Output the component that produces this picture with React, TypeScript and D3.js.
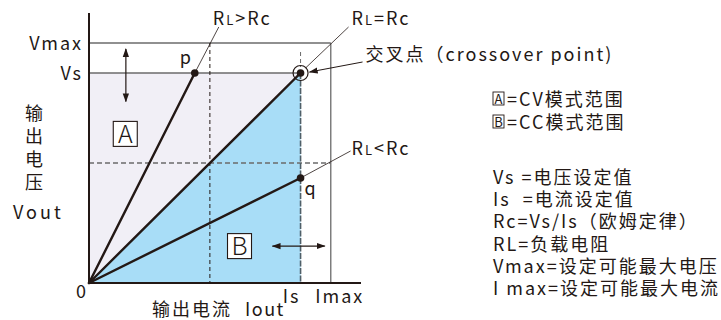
import * as d3 from 'd3';

// axis units (arbitrary): current on x, voltage on y
const xDomain = [0, 9];
const yDomain = [0, 9];
const Is = 7;
const Imax = 8;
const Vs = 7;
const Vmax = 8;
const midI = 4;
const midV = 4;

// load lines: end points from the origin
const loadLines = [
  { name: 'RL>Rc', x: 3.5, y: 7, point: 'p' },
  { name: 'RL=Rc', x: 7, y: 7, point: '' },
  { name: 'RL<Rc', x: 7, y: 3.5, point: 'q' },
];

const yTickLabels = [
  { v: Vmax, label: 'Vmax' },
  { v: Vs, label: 'Vs' },
];
const xTickLabels = [
  { v: Is, label: 'Is', dx: -9, dy: 20 },
  { v: Imax, label: 'Imax', dx: 9, dy: 20 },
];

const legendBoxes = [
  { box: 'A', text: '=CV模式范围' },
  { box: 'B', text: '=CC模式范围' },
];
const legendLines = [
  'Vs =电压设定值',
  'Is  =电流设定值',
  'Rc=Vs/Is（欧姆定律）',
  'RL=负载电阻',
  'Vmax=设定可能最大电压',
  'I max=设定可能最大电流',
];

const W = 721;
const H = 320;
const FONT = "'Noto Sans CJK SC', 'Noto Sans', sans-serif";
const INK = '#231815';
const GRAY = '#6b6b6b';

export default function App() {
  const x = d3.scaleLinear().domain(xDomain).range([89, 361]);
  const y = d3.scaleLinear().domain(yDomain).range([283, 13]);

  const areaA = d3.line()([
    [x(0), y(0)],
    [x(0), y(Vs)],
    [x(Is), y(Vs)],
  ]) + 'Z';
  const areaB = d3.line()([
    [x(0), y(0)],
    [x(Is), y(Vs)],
    [x(Is), y(0)],
  ]) + 'Z';

  const p = loadLines[0];
  const q = loadLines[2];

  const txt = {
    fontFamily: FONT,
    fontSize: 18,
    letterSpacing: 2,
    fill: INK,
  } as const;

  return (
    <svg
      width={W}
      height={H}
      viewBox={`0 0 ${W} ${H}`}
      style={{ position: 'absolute', left: 0, top: 0, background: '#fff' }}
    >
      <defs>
        <marker id="ah" viewBox="0 0 10 10" refX="9" refY="5" markerWidth="9" markerHeight="9" orient="auto-start-reverse" markerUnits="userSpaceOnUse">
          <path d="M0,1.5 L10,5 L0,8.5 Z" fill={INK} />
        </marker>
      </defs>

      {/* regions */}
      <path d={areaA} fill="#f1eff6" />
      <path d={areaB} fill="#a8ddf7" />

      {/* limit lines */}
      <line x1={x(0)} x2={x(Imax)} y1={y(Vmax)} y2={y(Vmax)} stroke={GRAY} strokeWidth={1.3} />
      <line x1={x(Imax)} x2={x(Imax)} y1={y(Vmax)} y2={y(0)} stroke={GRAY} strokeWidth={1.3} />
      <line x1={x(0)} x2={x(Is)} y1={y(Vs)} y2={y(Vs)} stroke={GRAY} strokeWidth={1.3} />

      {/* dashed guides */}
      <line x1={x(midI)} x2={x(midI)} y1={y(Vmax)} y2={y(0)} stroke={INK} strokeWidth={1} strokeDasharray="4,3" />
      <line x1={x(0)} x2={x(Imax)} y1={y(midV)} y2={y(midV)} stroke={GRAY} strokeWidth={1.3} strokeDasharray="5,3" />
      <line x1={x(Is)} x2={x(Is)} y1={y(Vmax) + 9} y2={y(Vs) - 6} stroke={GRAY} strokeWidth={1} strokeDasharray="4,3" />
      <line x1={x(Is)} x2={x(Is)} y1={y(Vs)} y2={y(0)} stroke="#4f5f68" strokeWidth={1.6} strokeDasharray="6,1.5" />

      {/* axes */}
      <line x1={x(0)} x2={x(0)} y1={y(9)} y2={y(0)} stroke={INK} strokeWidth={2} />
      <line x1={x(0)} x2={x(9)} y1={y(0)} y2={y(0)} stroke={INK} strokeWidth={2} />

      {/* load lines */}
      {loadLines.map((l) => (
        <line
          key={l.name}
          x1={x(0)} y1={y(0)} x2={x(l.x)} y2={y(l.y)}
          stroke={INK} strokeWidth={2.4} strokeLinecap="round"
        />
      ))}

      {/* leaders */}
      <line x1={x(p.x)} y1={y(p.y)} x2={x(p.x) + 24} y2={y(p.y) - 46} stroke={INK} strokeWidth={0.8} />
      <line x1={x(Is) + 5} y1={y(Vs) - 5} x2={x(Is) + 48} y2={y(Vs) - 46} stroke={INK} strokeWidth={0.8} />
      <line x1={x(q.x)} y1={y(q.y)} x2={x(q.x) + 50} y2={y(q.y) - 27} stroke={INK} strokeWidth={0.8} />
      <line x1={x(Is) + 62} y1={y(Vs) - 11} x2={x(Is) + 9} y2={y(Vs) - 1} stroke={INK} strokeWidth={1} markerEnd="url(#ah)" />

      {/* points */}
      <circle cx={x(p.x)} cy={y(p.y)} r={3.8} fill={INK} />
      <circle cx={x(q.x)} cy={y(q.y)} r={3.8} fill={INK} />
      <circle cx={x(Is)} cy={y(Vs)} r={3.8} fill={INK} />
      <circle cx={x(Is)} cy={y(Vs)} r={7.5} fill="none" stroke={INK} strokeWidth={1.2} />

      {/* double arrows */}
      <line x1={x(1.22)} x2={x(1.22)} y1={y(7.8)} y2={y(6.05)} stroke={INK} strokeWidth={1.2} markerStart="url(#ah)" markerEnd="url(#ah)" />
      <line x1={x(6.07)} x2={x(7.8)} y1={y(1.23)} y2={y(1.23)} stroke={INK} strokeWidth={1.2} markerStart="url(#ah)" markerEnd="url(#ah)" />

      {/* region boxes */}
      {[
        { k: 'A', cx: x(1.2), cy: y(4.97) },
        { k: 'B', cx: x(4.98), cy: y(1.23) },
      ].map((b) => (
        <g key={b.k}>
          <rect x={b.cx - 12} y={b.cy - 12.5} width={24} height={25} fill="#fff" stroke={INK} strokeWidth={1.1} />
          <text x={b.cx} y={b.cy + 9} textAnchor="middle" {...txt} fontSize={25} fontWeight={300} letterSpacing={0}>{b.k}</text>
        </g>
      ))}

      {/* line labels */}
      <text x={x(p.x) + 18} y={y(Vmax) - 18} {...txt}>R<tspan fontSize={13}>L</tspan>&gt;Rc</text>
      <text x={x(Is) + 51} y={y(Vmax) - 18} {...txt}>R<tspan fontSize={13}>L</tspan>=Rc</text>
      <text x={x(Is) + 51} y={y(midV) - 8} {...txt}>R<tspan fontSize={13}>L</tspan>&lt;Rc</text>
      <text x={x(p.x) - 15} y={y(p.y) - 9} {...txt}>{p.point}</text>
      <text x={x(q.x) + 4} y={y(q.y) + 17} {...txt}>{q.point}</text>
      <text x={x(Is) + 65} y={y(Vs) - 12} {...txt}>交叉点（crossover point)</text>

      {/* y tick labels */}
      {yTickLabels.map((t) => (
        <text key={t.label} x={x(0) - 6} y={y(t.v) + 6.5} textAnchor="end" {...txt}>{t.label}</text>
      ))}
      {/* x tick labels */}
      {xTickLabels.map((t) => (
        <text key={t.label} x={x(t.v) + t.dx} y={y(0) + t.dy} textAnchor="middle" {...txt}>{t.label}</text>
      ))}
      <text x={x(0) - 1} y={y(0) + 15} textAnchor="end" {...txt}>0</text>

      {/* axis titles */}
      {'输出电压'.split('').map((c, i) => (
        <text key={c} x={35} y={120 + i * 23} textAnchor="middle" {...txt}>{c}</text>
      ))}
      <text x={13} y={219} {...txt} letterSpacing={3}>Vout</text>
      <text x={152} y={316} {...txt}>输出电流</text>
      <text x={245} y={316} {...txt} letterSpacing={1.5}>Iout</text>

      {/* legend */}
      {legendBoxes.map((b, i) => (
        <g key={b.box} transform={`translate(493, ${94 + i * 23})`}>
          <rect x={0} y={-2} width={11} height={13} fill="#fff" stroke={INK} strokeWidth={0.9} />
          <text x={5.5} y={9.5} textAnchor="middle" {...txt} fontSize={13} letterSpacing={0}>{b.box}</text>
          <text x={14} y={12} {...txt}>{b.text}</text>
        </g>
      ))}
      {legendLines.map((s, i) => (
        <text key={s} x={493} y={184 + i * 22.2} {...txt} style={{ whiteSpace: 'pre' }}>{s}</text>
      ))}
    </svg>
  );
}
